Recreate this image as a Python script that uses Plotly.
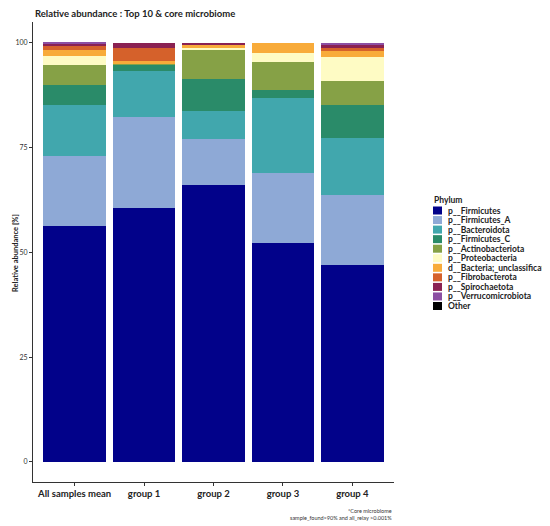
import plotly.graph_objects as go

groups = ["All samples mean", "group 1", "group 2", "group 3", "group 4"]

phyla = [
    "p__Firmicutes", "p__Firmicutes_A", "p__Bacteroidota", "p__Firmicutes_C",
    "p__Actinobacteriota", "p__Proteobacteria", "d__Bacteria;_unclassificatio",
    "p__Fibrobacterota", "p__Spirochaetota", "p__Verrucomicrobiota", "Other",
]
colors = [
    "#02028a", "#8ea9d6", "#41a7ad", "#2a8b69", "#86a146", "#fefbc4",
    "#f8ab3a", "#d5612b", "#8a2152", "#8c4fa3", "#000000",
]

# relative abundance (%) per group
firmicutes = [56.3, 60.6, 66.1, 52.3, 47.0]
firmicutes_a = [16.7, 21.8, 10.9, 16.7, 16.7]
bacteroidota = [12.2, 11.0, 6.8, 17.9, 13.5]
firmicutes_c = [4.8, 1.4, 7.6, 1.8, 8.1]
actinobacteriota = [4.8, 0.1, 6.8, 6.8, 5.6]
proteobacteria = [2.1, 0.0, 0.5, 2.0, 5.8]
bacteria_unclass = [1.4, 0.7, 0.9, 2.5, 1.4]
fibrobacterota = [1.0, 3.2, 0.1, 0.0, 0.8]
spirochaetota = [0.6, 1.2, 0.3, 0.0, 0.7]
verrucomicrobiota = [0.1, 0.0, 0.0, 0.0, 0.4]
other = [0.0, 0.0, 0.0, 0.0, 0.0]

series = [firmicutes, firmicutes_a, bacteroidota, firmicutes_c, actinobacteriota,
          proteobacteria, bacteria_unclass, fibrobacterota, spirochaetota,
          verrucomicrobiota, other]

# the page puts the figure 8px in from the corner, so work in window pixels
OFF = 8
W, H = 550 - OFF, 526 - OFF
L, R, T, B = 33 - OFF, 156, 22 - OFF, 44
PW, PH = W - L - R, H - T - B
FONT = "Lato, DejaVu Sans Condensed, sans-serif"


def px(x):
    return (x - OFF - L) / PW


def py(y):
    return (H - B - (y - OFF)) / PH


fig = go.Figure()
for name, vals, col in zip(phyla, series, colors):
    fig.add_trace(go.Bar(x=groups, y=vals, name=name, marker_color=col,
                         marker_line_width=0, width=0.9, showlegend=False))

# legend drawn by hand to get ggplot-like compact spacing
shapes = []
annotations = [dict(text="<b>Phylum</b>", x=px(432), y=py(199.5), xref="paper", yref="paper",
                    xanchor="left", yanchor="middle", showarrow=False,
                    font=dict(size=8.5, color="#222"))]
for i, (name, col) in enumerate(zip(phyla, colors)):
    cy = 210.5 + i * 9.55
    shapes.append(dict(type="rect", xref="paper", yref="paper",
                       x0=px(433), x1=px(442), y0=py(cy - 4), y1=py(cy + 4),
                       fillcolor=col, line_width=0))
    annotations.append(dict(text="<b>" + name + "</b>", x=px(446), y=py(cy),
                            xref="paper", yref="paper", xanchor="left", yanchor="middle",
                            showarrow=False, font=dict(size=8.5, color="#222")))

annotations.append(dict(text="<b>Relative abundance [%]</b>", x=px(15), y=py(253),
                        xref="paper", yref="paper", xanchor="center", yanchor="middle",
                        textangle=-90, showarrow=False, font=dict(size=7.5, color="#222")))
annotations.append(dict(text="*Core microbiome<br>sample_found>90% and all_relay >0.001%",
                        x=1, y=py(506), xref="paper", yref="paper", xanchor="right",
                        yanchor="top", align="right", showarrow=False,
                        font=dict(size=5.5, color="#333")))

fig.update_layout(
    width=W, height=H,
    barmode="stack",
    plot_bgcolor="white",
    paper_bgcolor="white",
    margin=dict(l=L, r=R, t=T, b=B, autoexpand=False),
    font=dict(family=FONT, color="#222"),
    title=dict(text="<b>Relative abundance : Top 10 & core microbiome</b>",
               x=35 / W - OFF / W, xanchor="left", y=1 - (11.5 - OFF) / H - 0.004,
               yanchor="middle", font=dict(size=9.5, color="#222")),
    shapes=shapes,
    annotations=annotations,
)
fig.update_xaxes(
    showline=True, linecolor="#333", linewidth=1, ticks="outside", ticklen=3,
    tickcolor="#333", showgrid=False, range=[-0.6, 4.6],
    tickfont=dict(size=9.5, color="#222"),
    tickvals=groups, ticktext=["<b>" + g + "</b>" for g in groups],
)
fig.update_yaxes(
    showline=True, linecolor="#333", linewidth=1, ticks="outside", ticklen=3,
    tickcolor="#333", showgrid=False, range=[-4.8, 105], zeroline=False,
    tickvals=[0, 25, 50, 75, 100], tickfont=dict(size=7, color="#333"),
)

fig.write_html("out.html")
